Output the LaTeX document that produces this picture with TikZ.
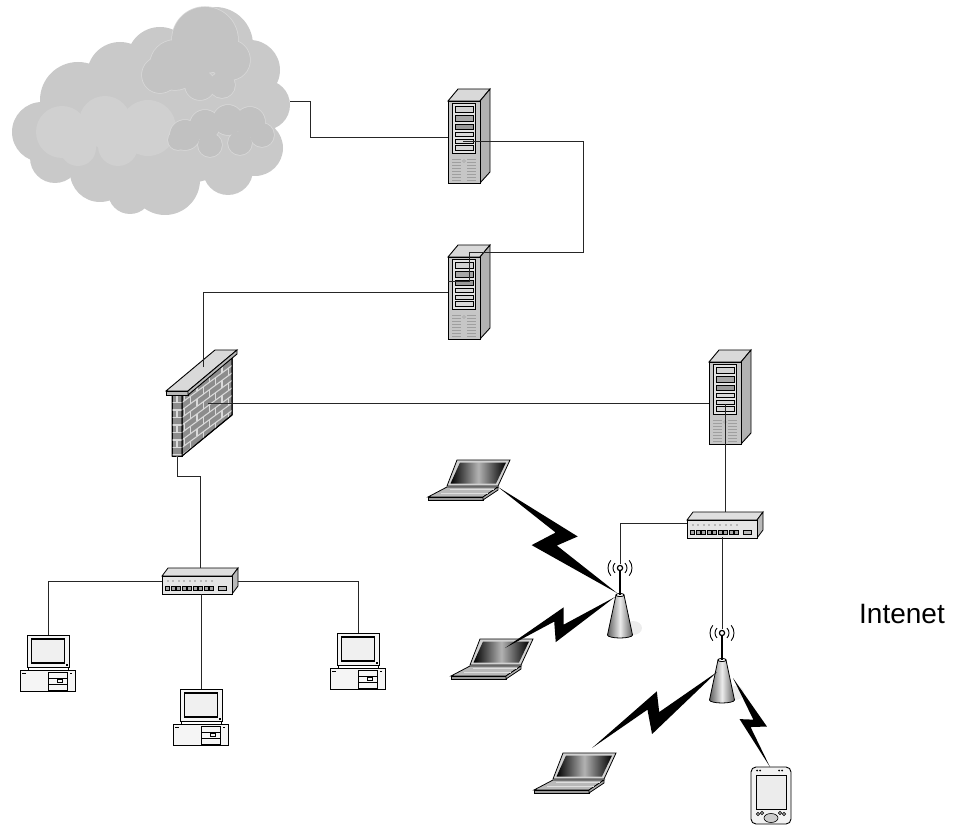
\documentclass[tikz,border=0pt]{standalone}
\usepackage{fontspec}
\setmainfont{Liberation Sans}
\usetikzlibrary{calc}

\tikzset{
  wire/.style={line width=0.75pt,black!85},
  mortar/.style={gray!30,line width=1.1pt},
  % rack server, origin at top left of the front panel
  pics/server/.style={code={
    \filldraw[line width=0.9pt,fill=gray!30] (0,0) -- (10,-12) -- (42,-12) -- (32,0) -- cycle;
    \filldraw[line width=0.9pt,fill=gray!60] (32,0) -- (42,-12) -- (42,71) -- (32,82) -- cycle;
    \filldraw[line width=0.9pt,fill=gray!45] (0,0) rectangle (32,82);
    \filldraw[line width=0.7pt,fill=gray!22] (4,2) rectangle (27,52);
    \foreach \y/\h/\c in {5/6/gray!35,14/6/gray!70,23/5/gray!80,31/4/gray!30,38/4/gray!30,44/5/gray!30}
      \filldraw[line width=0.6pt,fill=\c] (7,\y) rectangle (25,\y+\h);
    \foreach \y in {58,61,...,79} {
      \draw[gray!75,line width=0.8pt] (4,\y) -- (13,\y);
      \draw[gray!75,line width=0.8pt] (19,\y) -- (28,\y);
    }
    \draw[gray!70] (16,60) circle (1.5);
  }},
  % hub, origin at top left of the front
  pics/switchbox/.style={code={
    \filldraw[line width=0.8pt,fill=gray!25] (0,0) -- (6,-8) -- (76,-8) -- (70,0) -- cycle;
    \filldraw[line width=0.8pt,fill=gray!55] (70,0) -- (76,-8) -- (76,10) -- (70,18) -- cycle;
    \filldraw[line width=0.8pt,fill=gray!20] (0,0) rectangle (70,18);
    \foreach \i in {0,...,8} {
      \fill[gray!55] (4.5+5.5*\i,4) rectangle ++(2,2);
      \filldraw[line width=0.6pt,fill=gray!70] (3.3+5.5*\i,10) rectangle ++(4,4.5);
    }
    \filldraw[line width=0.6pt,fill=gray!55] (56,10) rectangle (64,14);
  }},
  % desktop pc, origin at top left of the monitor
  pics/pc/.style={code={
    \filldraw[line width=0.8pt,fill=gray!8] (0,0) rectangle (42,32);
    \filldraw[line width=1.8pt,fill=gray!12] (4.5,4) rectangle (37.5,28);
    \fill (39,29) rectangle (41,31);
    \draw[line width=0.8pt] (1,32) rectangle (41,35);
    \filldraw[line width=0.8pt,fill=gray!8] (-7,35) rectangle (48,56);
    \fill (-5.5,37.5) rectangle (-1,39);
    \draw[line width=0.7pt] (21,37.5) rectangle (40,55) (21,43) -- (40,43) (21,49) -- (40,49);
    \draw[line width=0.7pt] (30,44.5) rectangle (35,47.5);
    \fill (42.5,37.5) rectangle (45,39);
  }},
  % notebook, origin at top left of the lid
  pics/laptop/.style={code={
    \filldraw[line width=0.8pt,fill=gray!35] (0,0) -- (53,0) -- (41,26) -- (-10,26) -- cycle;
    \shade[left color=black,right color=black,middle color=gray!60]
      (3,2.5) -- (49,2.5) -- (39,23.5) -- (-6.5,23.5) -- cycle;
    \filldraw[line width=0.8pt,fill=gray!55] (-10,27) -- (41,27) -- (26,37) -- (-29,37) -- cycle;
    \filldraw[line width=0.8pt,fill=gray!80] (-29,37) -- (26,37) -- (26,40) -- (-29,40) -- cycle;
    \filldraw[line width=0.8pt,fill=gray!65] (26,37) -- (41,27) -- (41,30) -- (26,40) -- cycle;
    \draw[gray!25] (-7,29.5) -- (37,29.5) (-16,33.5) -- (31,33.5);
  }},
  % wireless access point, origin at the top of the body
  pics/accesspt/.style={code={
    \fill[gray!15] (13,33) ellipse (9 and 7);
    \shadedraw[line width=0.8pt,left color=gray!75!black,right color=gray!75!black,middle color=gray!15]
      (-4,0) -- (-12.5,40) arc[start angle=180,end angle=0,x radius=12.5,y radius=3] -- (4,0) -- cycle;
    \filldraw[line width=0.8pt,fill=white] (0,0) ellipse (4 and 1.6);
    \draw[line width=1.8pt] (0,0) -- (0,-24);
    \filldraw[line width=1.2pt,fill=white] (0,-27) circle (2.6);
    \draw[line width=0.9pt] ([shift={(0,-27)}]135:7) arc (135:225:7);
    \draw[line width=0.9pt] ([shift={(0,-27)}]-45:7) arc (-45:45:7);
    \draw[line width=0.9pt] ([shift={(0,-27)}]140:12) arc (140:220:12);
    \draw[line width=0.9pt] ([shift={(0,-27)}]-40:12) arc (-40:40:12);
  }},
  % handheld, origin at top left
  pics/pda/.style={code={
    \filldraw[line width=0.9pt,fill=gray!10,rounded corners=5] (0,0) rectangle (40,57);
    \filldraw[line width=0.7pt,fill=gray!15] (5,8) rectangle (35,42);
    \foreach \x in {6,9,28,31} \fill (\x,3.5) circle (1);
    \filldraw[line width=0.6pt,fill=gray!40] (20,51) ellipse (7 and 4.5);
    \foreach \x/\y in {7/47,11/46,29/46,33/47} \draw[line width=0.6pt] (\x,\y) circle (1.6);
  }},
}

% radio link between two named points
\newcommand{\bolt}[2]{%
  \fill (#1) -- ($(#1)!0.58!(#2)!0.24!90:(#2)$) -- ($(#1)!0.52!(#2)!0.06!-90:(#2)$)
    -- (#2) -- ($(#1)!0.40!(#2)!0.22!-90:(#2)$) -- ($(#1)!0.46!(#2)!0.05!90:(#2)$) -- cycle;}

\begin{document}
\begin{tikzpicture}[x=1pt,y=-1pt]
\useasboundingbox (0,0) rectangle (956,826);

% cloud
\fill[gray!42] (155,125) ellipse (110 and 62);
\foreach \x/\y/\r in {42/132/30,78/100/38,120/75/33,160/60/33,215/45/38,250/70/30,265/105/25,
    255/148/28,228/170/25,165/180/35,100/172/30,55/158/25,130/192/22}
  \fill[gray!42] (\x,\y) circle (\r);
\foreach \x/\y/\r in {62/132/26,105/122/26,148/128/28,118/146/20,78/148/18}
  \fill[gray!37] (\x,\y) circle (\r);
\foreach \x/\y/\r in {205/40/33,175/65/25,160/75/18,230/60/20,200/85/15,222/85/13}
  \draw[gray!30,line width=1.5pt] (\x,\y) circle (\r);
\foreach \x/\y/\r in {205/40/33,175/65/25,160/75/18,230/60/20,200/85/15,222/85/13}
  \fill[gray!47] (\x,\y) circle (\r);
\foreach \x/\y/\r in {185/135/15,205/125/15,228/120/15,250/122/15,262/135/12,240/143/12,210/145/12,178/140/10}
  \draw[gray!30,line width=1.5pt] (\x,\y) circle (\r);
\foreach \x/\y/\r in {185/135/15,205/125/15,228/120/15,250/122/15,262/135/12,240/143/12,210/145/12,178/140/10}
  \fill[gray!49] (\x,\y) circle (\r);

% servers
\pic at (448,101) {server};
\pic at (448,257) {server};
\pic at (709,362) {server};

% firewall
\filldraw[fill=gray!90,line width=1pt] (172,395) rectangle (182,456);
\filldraw[fill=gray!90,line width=1pt] (182,395) -- (232,358) -- (232,415) -- (182,456) -- cycle;
\begin{scope}
  \clip (182,395) -- (232,358) -- (232,415) -- (182,456) -- cycle;
  \foreach \k in {1,...,8} \draw[mortar] (182,395+7.5*\k) -- ++(50,-37);
  \foreach \k in {0,...,8} \foreach \t in {0.05,0.3,0.55,0.8} {
    \pgfmathsetmacro\tt{\t+0.125*mod(\k,2)}
    \draw[mortar] (182+50*\tt,395-37*\tt+7.5*\k) -- ++(0,7.5);
  }
\end{scope}
\begin{scope}
  \clip (172,395) rectangle (182,456);
  \foreach \k in {1,...,8} \draw[mortar] (172,395+7.5*\k) -- ++(10,0);
  \foreach \k in {0,2,...,8} \draw[mortar] (177,395+7.5*\k) -- ++(0,7.5);
\end{scope}
\draw[line width=1pt] (172,395) rectangle (182,456) (182,395) -- (232,358) -- (232,415) -- (182,456);
\filldraw[fill=gray!30,line width=0.9pt] (166,391) -- (215,350) -- (237,350) -- (188,391) -- cycle;
\filldraw[fill=gray!55,line width=0.9pt] (166,391) rectangle (188,395);
\filldraw[fill=gray!55,line width=0.9pt] (188,391) -- (237,350) -- (237,354) -- (188,395) -- cycle;

% switches
\pic at (162,576) {switchbox};
\pic at (687,520) {switchbox};

% desktops
\pic at (27,635) {pc};
\pic at (180,689) {pc};
\pic at (337,633) {pc};

% wireless side
\pic at (620,595) {accesspt};
\pic at (722,660) {accesspt};
\pic at (457,460) {laptop};
\pic at (480,639) {laptop};
\pic at (563,753) {laptop};
\pic at (751,767) {pda};

% ports
\coordinate (cloud) at (290,101);
\coordinate (srv1) at (448,137);
\coordinate (srv1b) at (463,141);
\coordinate (srv2) at (448,292);
\coordinate (srv2b) at (469,281);
\coordinate (srv3) at (709,403);
\coordinate (srv3b) at (725,404);
\coordinate (fwtop) at (203,367);
\coordinate (fwside) at (208,403);
\coordinate (fwbot) at (177,457);
\coordinate (sw1top) at (200,568);
\coordinate (sw1left) at (162,581);
\coordinate (sw1right) at (238,581);
\coordinate (sw1bot) at (201,594);
\coordinate (pc1) at (48,635);
\coordinate (pc2) at (201,689);
\coordinate (pc3) at (358,633);
\coordinate (sw2top) at (725,512);
\coordinate (sw2left) at (687,523);
\coordinate (sw2bot) at (722,537);
\coordinate (ap1) at (620,564);
\coordinate (ap2) at (722,629);
\coordinate (lap1) at (498,487);
\coordinate (lap2) at (505,648);
\coordinate (lap3) at (592,748);
\coordinate (pda) at (770,767);
\coordinate (ap1a) at (617,593);
\coordinate (ap1b) at (615,597);
\coordinate (ap2a) at (717,672);
\coordinate (ap2b) at (733,678);

% cabling
\draw[wire] (cloud) -- ++(20,0) |- (srv1);
\draw[wire] (srv1b) -- ++(120,0) -- ++(0,111) -| (srv2b) -- (srv2b -| srv2);
\draw[wire] (fwtop) |- (srv2);
\draw[wire] (fwside) -- (srv3);
\draw[wire] (srv3b) -- (sw2top);
\draw[wire] (fwbot) -- ++(0,19) -| (sw1top);
\draw[wire] (sw1left) -| (pc1);
\draw[wire] (sw1right) -| (pc3);
\draw[wire] (sw1bot) -- (pc2);
\draw[wire] (sw2left) -| (ap1);
\draw[wire] (sw2bot) -- (ap2);

% radio links
\bolt{lap1}{ap1a}
\bolt{lap2}{ap1b}
\bolt{lap3}{ap2a}
\bolt{pda}{ap2b}

\node (label) at (902,614) {\fontsize{28}{32}\selectfont Intenet};
\end{tikzpicture}
\end{document}
